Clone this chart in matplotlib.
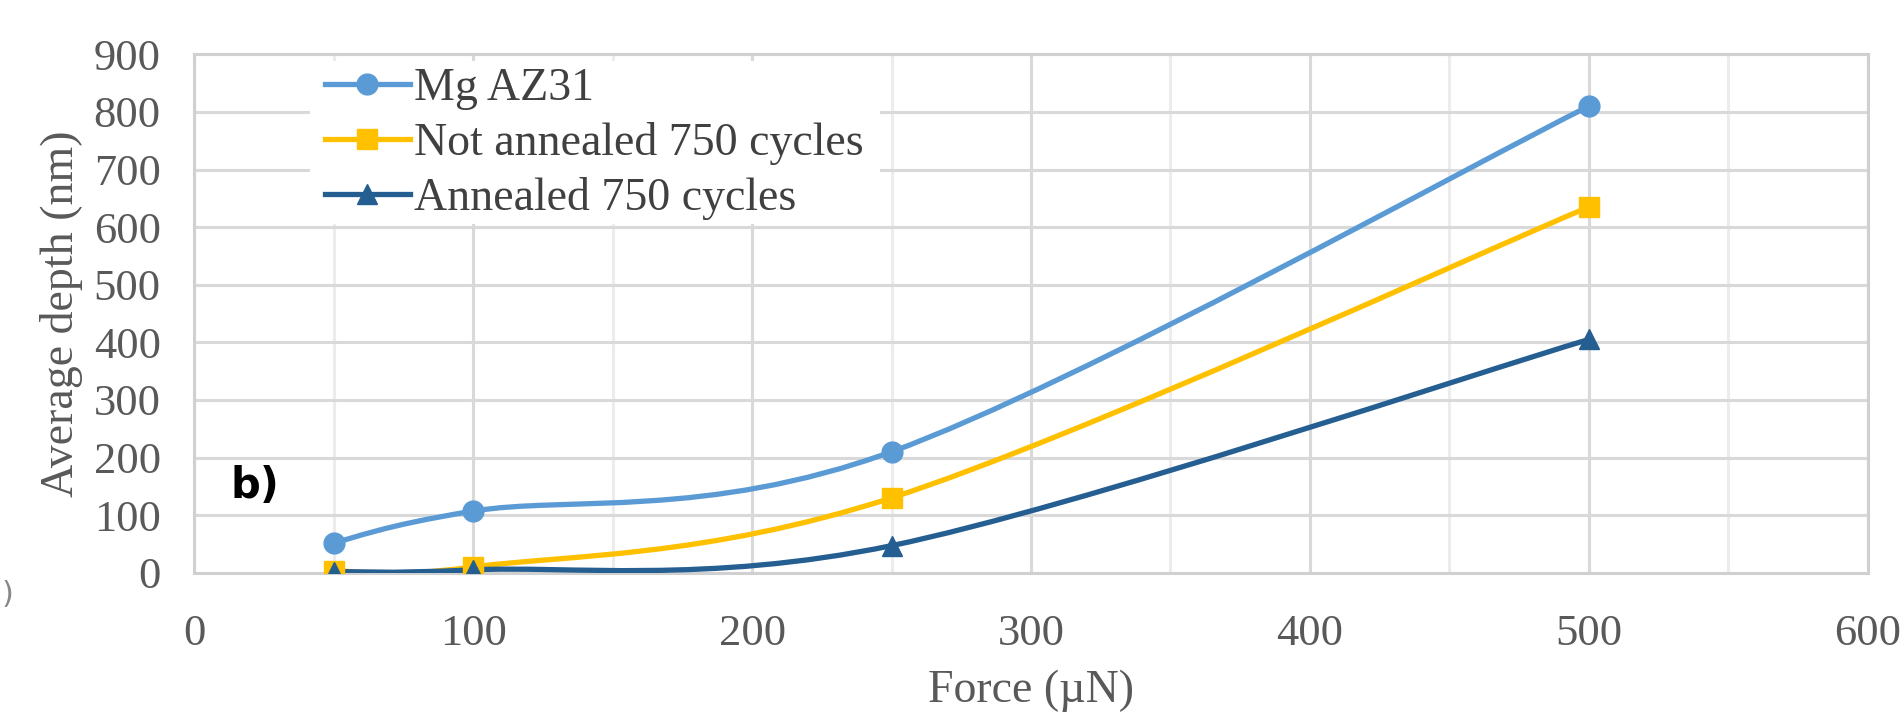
import numpy as np
import matplotlib
matplotlib.use("Agg")
import matplotlib.pyplot as plt
from matplotlib.path import Path
from matplotlib.patches import PathPatch, Rectangle
from matplotlib.lines import Line2D
from matplotlib.ticker import MultipleLocator

# data
force = [50, 100, 250, 500]
mg_az31 = [52, 107, 210, 810]
not_annealed = [3, 10, 130, 635]
annealed = [2, 5, 47, 405]

labels = ["Mg AZ31", "Not annealed 750 cycles", "Annealed 750 cycles"]
colors = ["#5B9BD5", "#FFC000", "#255E91"]
markers = ["o", "s", "^"]

serif = "Liberation Serif"
grey_text = "#595959"


def smooth_path(xs, ys):
    """Excel-like smoothed line through the points (cubic bezier segments)"""
    pts = np.column_stack([xs, ys]).astype(float)
    ext = np.vstack([pts[0], pts, pts[-1]])
    verts = [pts[0]]
    codes = [Path.MOVETO]
    for i in range(len(pts) - 1):
        p0, p1, p2, p3 = ext[i], ext[i + 1], ext[i + 2], ext[i + 3]
        c1 = p1 + (p2 - p0) / 6
        c2 = p2 - (p3 - p1) / 6
        verts += [c1, c2, p2]
        codes += [Path.CURVE4] * 3
    return Path(verts, codes)


fig = plt.figure(figsize=(19.04, 7.15), dpi=100)
ax = fig.add_axes([0.102, 0.199, 0.879, 0.725])

ax.set_xlim(0, 600)
ax.set_ylim(0, 900)
ax.xaxis.set_major_locator(MultipleLocator(100))
ax.xaxis.set_minor_locator(MultipleLocator(50))
ax.yaxis.set_major_locator(MultipleLocator(100))
ax.set_axisbelow(True)
ax.grid(which="major", color="#d9d9d9", lw=2.2)
ax.grid(which="minor", axis="x", color="#ececec", lw=2.2)

for s in ax.spines.values():
    s.set_color("#d0d0d0")
    s.set_linewidth(2.2)

ax.tick_params(which="both", length=0, labelsize=32, labelcolor=grey_text)
ax.tick_params(axis="x", pad=30)
ax.tick_params(axis="y", pad=24)
for lab in ax.get_xticklabels() + ax.get_yticklabels():
    lab.set_fontfamily(serif)

#draw the series
handles = []
for ys, lab, col, mk in zip([mg_az31, not_annealed, annealed], labels, colors, markers):
    ax.add_patch(PathPatch(smooth_path(force, ys), fill=False, edgecolor=col,
                           lw=3.8, capstyle="round", zorder=3))
    ax.plot(force, ys, linestyle="none", marker=mk, color=col, markersize=15, zorder=4)
    handles.append(Line2D([], [], color=col, lw=3.8, marker=mk, markersize=15))

# white box behind the legend, hiding the gridlines
ax.add_patch(Rectangle((0.069, 0.672), 0.341, 0.316, transform=ax.transAxes,
                       facecolor="white", edgecolor="none", zorder=2))

leg = ax.legend(handles, labels, loc="upper left", bbox_to_anchor=(0.078, 0.974),
                frameon=False, handlelength=1.85, handletextpad=0.1,
                labelspacing=0.26, borderpad=0, borderaxespad=0,
                prop={"family": serif, "size": 33})
for t in leg.get_texts():
    t.set_color("#404040")

ax.set_xlabel("Force (µN)", fontsize=33, family=serif, color=grey_text, labelpad=11)
ax.set_ylabel("Average depth (nm)", fontsize=33, family=serif, color=grey_text, labelpad=8)

ax.text(13, 150, "b)", fontsize=30, fontweight="bold", color="black",
        va="center", ha="left", zorder=5)

# cropped bracket at the far left of the original figure
fig.text(0.001, 1 - 490 / 589, ")", fontsize=22, color="#888888", va="center")

fig.savefig("out.png", dpi=100)
